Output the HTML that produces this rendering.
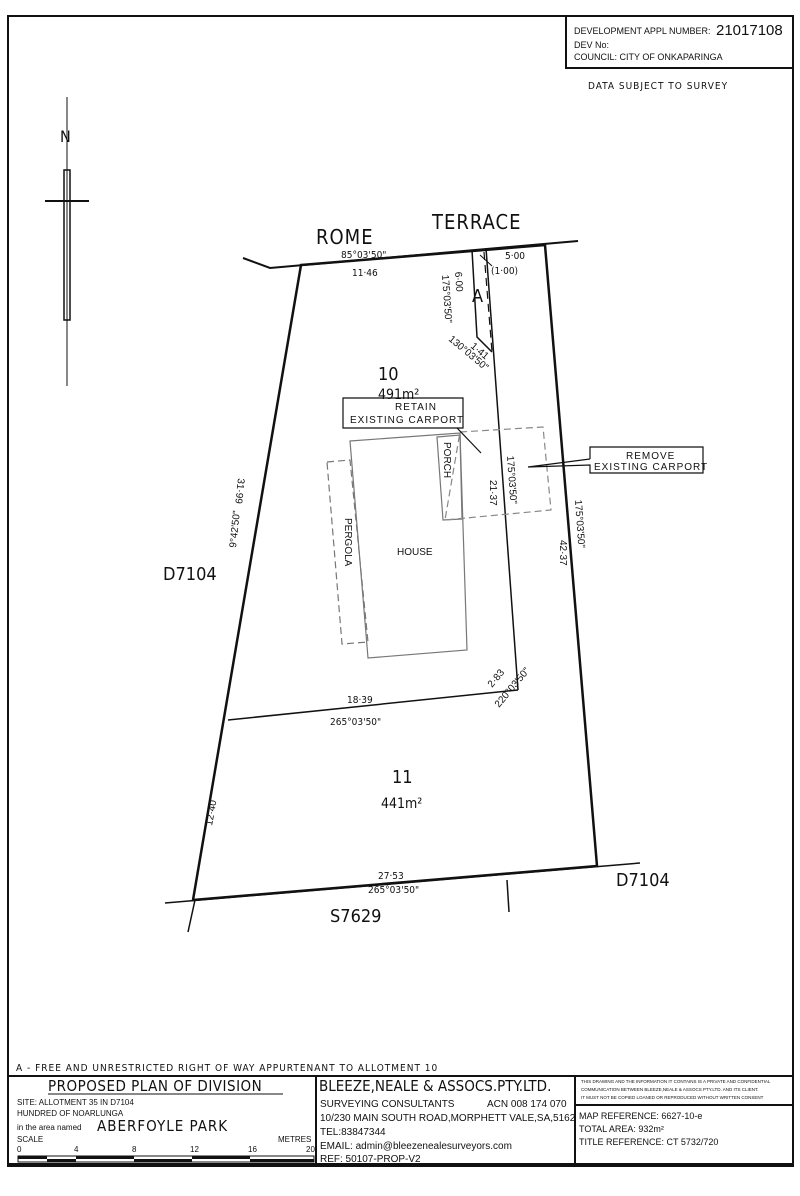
<!DOCTYPE html>
<html><head><meta charset="utf-8"><style>
html,body{margin:0;padding:0;background:#fff;}
svg{display:block;}
text{font-family:"Liberation Sans",sans-serif;fill:#111;}
.m{font-family:"DejaVu Sans Condensed","Liberation Sans",sans-serif;}
</style></head><body>
<svg width="800" height="1196" viewBox="0 0 800 1196" xmlns="http://www.w3.org/2000/svg">
<rect x="8" y="16" width="785" height="1150" fill="none" stroke="#111" stroke-width="2"/>
<rect x="566" y="16" width="227" height="52" fill="none" stroke="#111" stroke-width="2"/>
<text x="574" y="34" font-size="9">DEVELOPMENT APPL NUMBER:</text>
<text x="716" y="35" font-size="15">21017108</text>
<text x="574" y="48" font-size="9">DEV No:</text>
<text x="574" y="60" font-size="9">COUNCIL: CITY OF ONKAPARINGA</text>
<text x="588" y="89" font-size="10" class="m" letter-spacing="1">DATA SUBJECT TO SURVEY</text>
<line x1="67" y1="97" x2="67" y2="386" stroke="#111" stroke-width="1"/>
<rect x="64" y="170" width="6" height="150" fill="none" stroke="#111" stroke-width="1.5"/>
<line x1="45" y1="201" x2="89" y2="201" stroke="#111" stroke-width="2"/>
<text x="60" y="142" font-size="16" class="m">N</text>
<g stroke="#111" fill="none">
<polyline points="243,258 270,268 578,241" stroke-width="2"/>
<line x1="165" y1="903" x2="640" y2="863" stroke-width="1.5"/>
<line x1="188" y1="932" x2="195" y2="900" stroke-width="1.5"/>
<line x1="507" y1="880" x2="509" y2="912" stroke-width="1.5"/>
<polygon points="301,265 545,245 597,866 193,900" stroke-width="2.5"/>
<line x1="228" y1="720" x2="518" y2="690" stroke-width="1.5"/>
<line x1="486" y1="248" x2="518" y2="690" stroke-width="1.5"/>
<polyline points="472,250 477,337 492,352" stroke-width="1.5"/>
<line x1="484" y1="252" x2="492" y2="352" stroke-width="1.2" stroke-dasharray="8,5"/>
<line x1="480" y1="255" x2="492" y2="266" stroke-width="1"/>
<polygon points="350,441 460,433 467,650 368,658" stroke="#777" stroke-width="1.2"/>
<polygon points="327,462 350,460 368,642 342,644" stroke="#777" stroke-width="1.2" stroke-dasharray="7,4"/>
<polygon points="437,437 460,435 462,519 443,520" stroke="#777" stroke-width="1.2"/>
<polygon points="460,432 543,427 551,510 445,520" stroke="#888" stroke-width="1.2" stroke-dasharray="7,4"/>
<polyline points="450,428 463,428 463,398 343,398 343,428 457,428 481,453" stroke-width="1.2"/>
<polyline points="590,459 528,467 590,465 590,473 703,473 703,447 590,447 590,459" stroke-width="1.2"/>
</g>
<g class="m" font-size="10">
<text x="395" y="410" letter-spacing="1">RETAIN</text>
<text x="350" y="423" letter-spacing="1">EXISTING CARPORT</text>
<text x="626" y="459" letter-spacing="1">REMOVE</text>
<text x="594" y="470" letter-spacing="1">EXISTING CARPORT</text>
<text x="397" y="555">HOUSE</text>
</g>
<text x="316" y="244" font-size="20" class="m" letter-spacing="1">ROME</text>
<text x="432" y="229" font-size="20" class="m" letter-spacing="1">TERRACE</text>
<text x="341" y="258" font-size="10" class="m">85°03'50"</text>
<text x="352" y="276" font-size="10" class="m">11·46</text>
<text x="505" y="259" font-size="10" class="m">5·00</text>
<text x="491" y="274" font-size="10" class="m">(1·00)</text>
<text x="472" y="302" font-size="18" class="m">A</text>
<text x="378" y="380" font-size="18" class="m">10</text>
<text x="378" y="399" font-size="14" class="m">491m²</text>
<text x="392" y="783" font-size="18" class="m">11</text>
<text x="381" y="808" font-size="14" class="m">441m²</text>
<text x="163" y="580" font-size="18" class="m">D7104</text>
<text x="616" y="886" font-size="18" class="m">D7104</text>
<text x="330" y="922" font-size="18" class="m">S7629</text>
<text x="347" y="703" font-size="10" class="m">18·39</text>
<text x="330" y="725" font-size="10" class="m">265°03'50"</text>
<text x="378" y="879" font-size="10" class="m">27·53</text>
<text x="368" y="893" font-size="10" class="m">265°03'50"</text>
<g class="m" font-size="10">
<text transform="translate(455,272) rotate(86)">6·00</text>
<text transform="translate(442,275) rotate(86)">175°03'50"</text>
<text transform="translate(470,347) rotate(40)">1·41</text>
<text transform="translate(448,340) rotate(40)">130°03'50"</text>
<text transform="translate(444,442) rotate(90)">PORCH</text>
<text transform="translate(490,480) rotate(90)">21·37</text>
<text transform="translate(507,456) rotate(86)">175°03'50"</text>
<text transform="translate(560,540) rotate(90)">42·37</text>
<text transform="translate(575,500) rotate(86)">175°03'50"</text>
<text transform="translate(345,518) rotate(90)">PERGOLA</text>
<text transform="translate(238,478) rotate(96)">31·99</text>
<text transform="translate(236,548) rotate(-84)">9°42'50"</text>
<text transform="translate(212,826) rotate(-80)">12·40</text>
<text transform="translate(492,688) rotate(-50)">2·83</text>
<text transform="translate(499,708) rotate(-50)">220°03'50"</text>
</g>
<text x="16" y="1071" font-size="10" class="m" letter-spacing="1">A - FREE AND UNRESTRICTED RIGHT OF WAY APPURTENANT TO ALLOTMENT 10</text>
<line x1="8" y1="1076" x2="793" y2="1076" stroke="#111" stroke-width="2"/>
<line x1="316" y1="1076" x2="316" y2="1166" stroke="#111" stroke-width="2"/>
<line x1="575" y1="1076" x2="575" y2="1166" stroke="#111" stroke-width="2"/>
<line x1="575" y1="1105" x2="793" y2="1105" stroke="#111" stroke-width="2"/>
<line x1="8" y1="1164" x2="793" y2="1164" stroke="#111" stroke-width="2"/>
<text x="48" y="1091" font-size="15" class="m" letter-spacing="0.5">PROPOSED PLAN OF DIVISION</text>
<line x1="48" y1="1094" x2="283" y2="1094" stroke="#111" stroke-width="1"/>
<g class="m" font-size="8">
<text x="17" y="1105">SITE: ALLOTMENT 35 IN D7104</text>
<text x="17" y="1116">HUNDRED OF NOARLUNGA</text>
<text x="17" y="1130">in the area named</text>
<text x="17" y="1142">SCALE</text>
<text x="278" y="1142">METRES</text>
<text x="17" y="1152">0</text><text x="74" y="1152">4</text><text x="132" y="1152">8</text><text x="190" y="1152">12</text><text x="248" y="1152">16</text><text x="306" y="1152">20</text>
</g>
<text x="97" y="1131" font-size="15" class="m" letter-spacing="1">ABERFOYLE PARK</text>
<rect x="18" y="1156" width="296" height="6" fill="none" stroke="#111" stroke-width="1"/>
<g fill="#111"><rect x="18" y="1156" width="29" height="3"/><rect x="47" y="1159" width="29" height="3"/><rect x="76" y="1156" width="58" height="3"/><rect x="134" y="1159" width="58" height="3"/><rect x="192" y="1156" width="58" height="3"/><rect x="250" y="1159" width="64" height="3"/></g>
<text x="319" y="1091" font-size="15" class="m">BLEEZE,NEALE &amp; ASSOCS.PTY.LTD.</text>
<g class="m" font-size="10">
<text x="320" y="1107">SURVEYING CONSULTANTS</text>
<text x="487" y="1107">ACN 008 174 070</text>
<text x="320" y="1121">10/230 MAIN SOUTH ROAD,MORPHETT VALE,SA,5162</text>
<text x="320" y="1135">TEL:83847344</text>
<text x="320" y="1149">EMAIL: admin@bleezenealesurveyors.com</text>
<text x="320" y="1162">REF: 50107-PROP-V2</text>
<text x="579" y="1119" font-size="9">MAP REFERENCE: 6627-10-e</text>
<text x="579" y="1132" font-size="9">TOTAL AREA: 932m²</text>
<text x="579" y="1145" font-size="9">TITLE REFERENCE: CT 5732/720</text>
</g>
<g font-size="4.5">
<text x="581" y="1083">THIS DRAWING AND THE INFORMATION IT CONTAINS IS A PRIVATE AND CONFIDENTIAL</text>
<text x="581" y="1091">COMMUNICATION BETWEEN BLEEZE,NEALE &amp; ASSOCS PTY.LTD. AND ITS CLIENT.</text>
<text x="581" y="1099">IT MUST NOT BE COPIED LOANED OR REPRODUCED WITHOUT WRITTEN CONSENT</text>
</g>
</svg>
</body></html>
